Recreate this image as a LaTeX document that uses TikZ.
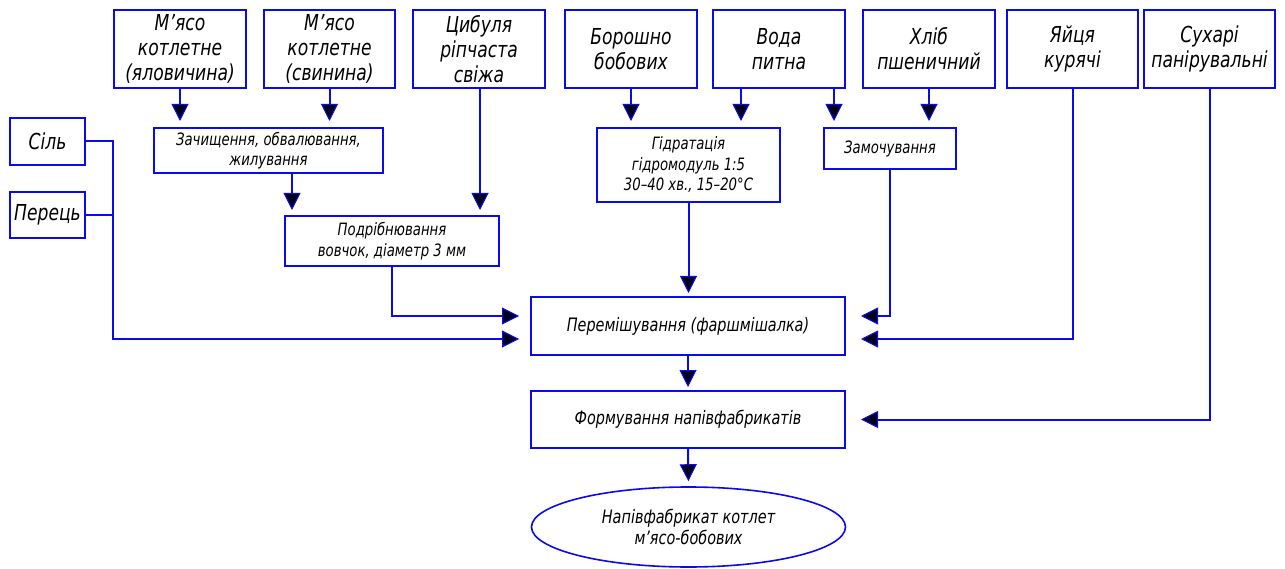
\documentclass[tikz,border=0pt]{standalone}
\usepackage{fontspec}
\setmainfont{DejaVu Sans}[FakeStretch=0.78]
\usetikzlibrary{arrows.meta,shapes.geometric}
\definecolor{lblue}{RGB}{10,10,240}
\definecolor{tipfill}{RGB}{0,0,30}
\tikzset{
  box/.style={draw=lblue, line width=2pt, inner sep=0pt, align=center, font=\itshape\fontsize{17}{20.5}\selectfont},
  big/.style={font=\itshape\fontsize{22}{25}\selectfont},
  mid/.style={font=\itshape\fontsize{18.5}{21.5}\selectfont},
  conn/.style={draw=lblue, line width=2pt},
  arr/.style={conn, -{Triangle[length=17pt,width=17pt,fill=tipfill,line width=1pt]}},
}
\begin{document}
\begin{tikzpicture}[x=1pt,y=-1pt]
\useasboundingbox (0,0) rectangle (1285,569);
% top boxes
\node[box,big,minimum width=132pt,minimum height=78pt] (m1) at (180,49) {М'ясо\\котлетне\\(яловичина)};
\node[box,big,minimum width=131pt,minimum height=78pt] (m2) at (329.5,49) {М'ясо\\котлетне\\(свинина)};
\node[box,big,minimum width=132pt,minimum height=78pt] (cyb) at (479,49) {Цибуля\\ріпчаста\\свіжа};
\node[box,big,minimum width=132pt,minimum height=78pt] (bor) at (631,49) {Борошно\\бобових};
\node[box,big,minimum width=132pt,minimum height=78pt] (voda) at (779,49) {Вода\\питна};
\node[box,big,minimum width=132pt,minimum height=78pt] (hlib) at (929,49) {Хліб\\пшеничний};
\node[box,big,minimum width=131pt,minimum height=78pt] (yaj) at (1072.5,49) {Яйця\\курячі};
\node[box,big,minimum width=131pt,minimum height=78pt] (suh) at (1209.5,49) {Сухарі\\панірувальні};
% left boxes
\node[box,big,minimum width=75pt,minimum height=47pt] (sil) at (47.5,141.5) {Сіль};
\node[box,big,minimum width=75pt,minimum height=46pt] (per) at (47.5,215) {Перець};
% process boxes
\node[box,minimum width=229pt,minimum height=45pt] (zach) at (268.5,150.5) {Зачищення, обвалювання,\\жилування};
\node[box,minimum width=214pt,minimum height=50pt] (podr) at (392,241) {Подрібнювання\\вовчок, діаметр 3 мм};
\node[box,minimum width=183pt,minimum height=74pt] (hidr) at (688.5,165) {Гідратація\\гідромодуль 1:5\\30–40 хв., 15–20°С};
\node[box,minimum width=132pt,minimum height=41pt] (zam) at (890,148.5) {Замочування};
\node[box,mid,minimum width=314pt,minimum height=58pt] (perem) at (688,326) {Перемішування (фаршмішалка)};
\node[box,mid,minimum width=314pt,minimum height=57pt] (form) at (688,419.5) {Формування напівфабрикатів};
\node[box,mid,ellipse,line width=1.6pt,minimum width=314pt,minimum height=80pt] (ell) at (688.5,527) {Напівфабрикат котлет\\м'ясо-бобових};
% entry points on the mixing box
\coordinate (pwU) at ([yshift=10pt]perem.west);
\coordinate (pwD) at ([yshift=-13pt]perem.west);
\coordinate (peU) at ([yshift=10pt]perem.east);
\coordinate (peD) at ([yshift=-13pt]perem.east);
% connectors from top
\draw[arr,shorten >=6pt] (m1.south) -- (m1.south |- zach.north);
\draw[arr,shorten >=6pt] (m2.south) -- (m2.south |- zach.north);
\draw[arr,shorten >=5pt] ([xshift=23.5pt]zach.south) -- ([xshift=23.5pt]zach.south |- podr.north);
\draw[arr,shorten >=5pt] ([xshift=1pt]cyb.south) -- ([xshift=1pt]cyb.south |- podr.north);
\draw[arr,shorten >=6pt] (bor.south) -- (bor.south |- hidr.north);
\draw[arr,shorten >=6pt] ([xshift=-38pt]voda.south) -- ([xshift=-38pt]voda.south |- hidr.north);
\draw[arr,shorten >=6pt] ([xshift=55pt]voda.south) -- ([xshift=55pt]voda.south |- zam.north);
\draw[arr,shorten >=6pt] (hlib.south) -- (hlib.south |- zam.north);
\draw[arr,shorten >=3pt] (hidr.south) -- (hidr.south |- perem.north);
% left inputs
\coordinate (lj) at (113,141.5);
\draw[conn] (per.east) -- (per.east -| lj);
\draw[arr,shorten >=11pt] (sil.east) -- (lj) -- (lj |- pwD) -- (pwD);
\draw[arr,shorten >=11pt] (podr.south) -- (podr.south |- pwU) -- (pwU);
% right inputs
\draw[arr,shorten >=15pt] (zam.south) -- (zam.south |- peU) -- (peU);
\draw[arr,shorten >=15pt] (yaj.south) -- (yaj.south |- peD) -- (peD);
\draw[arr,shorten >=15pt] (suh.south) -- (suh.south |- form.east) -- (form.east);
% main flow
\draw[arr,shorten >=3pt] (perem.south) -- (form.north);
\draw[arr,shorten >=5pt] (form.south) -- (ell.north);
\end{tikzpicture}
\end{document}
